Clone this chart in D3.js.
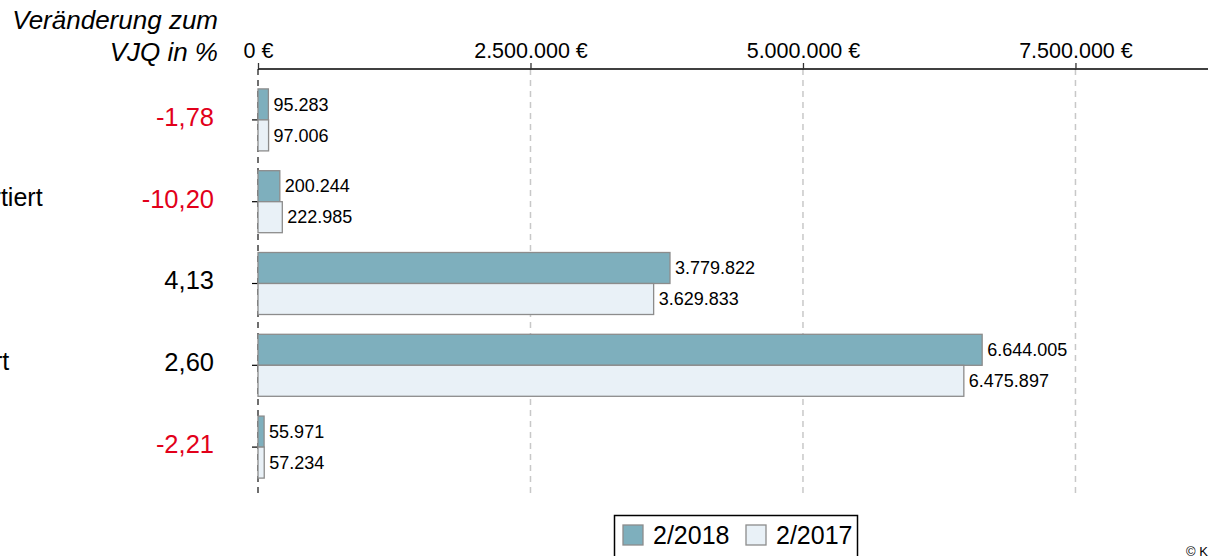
<!DOCTYPE html>
<html><head><meta charset="utf-8">
<script src="https://cdn.jsdelivr.net/npm/d3@7"></script>
<style>
html,body{margin:0;padding:0;background:#fff;overflow:hidden}
svg{display:block;font-family:"Liberation Sans",Arial,sans-serif}
</style></head>
<body>
<svg id="c" width="1214" height="556"></svg>
<script>
// ---- data ----
const categories = ["Wert", "Importiert", "Kauf", "Export", "Lohn"];
const series = ["2/2018", "2/2017"];
const values2018 = [95283, 200244, 3779822, 6644005, 55971];
const values2017 = [97006, 222985, 3629833, 6475897, 57234];
const changePct = [-1.78, -10.20, 4.13, 2.60, -2.21];
const tickValues = [0, 2500000, 5000000, 7500000];
const titleLines = ["Veränderung zum", "VJQ in %"];
const copyright = "© K";

// ---- layout ----
const svg = d3.select("#c");
const x = d3.scaleLinear().domain([0, 8716000]).range([258, 1208]);
const y = d3.scaleBand().domain(categories).range([79, 488]);
const ySub = d3.scaleBand().domain(series).range([y.bandwidth()/2 - 31, y.bandwidth()/2 + 31]);
const colors = {"2/2018": "#7eafbd", "2/2017": "#e9f1f7"};
const deFmt = d3.formatLocale({decimal: ",", thousands: ".", grouping: [3], currency: ["", " €"], minus: "-"});
const fmtInt = deFmt.format(",d");
const fmtPct = deFmt.format(".2f");

// grid lines
svg.append("g").selectAll("line").data(tickValues.filter(d => d > 0)).join("line")
  .attr("x1", d => x(d)).attr("x2", d => x(d))
  .attr("y1", 69).attr("y2", 498)
  .attr("stroke", "#c8c8c8").attr("stroke-width", 1.5).attr("stroke-dasharray", "6,5");

// zero line (dashed dark)
svg.append("line").attr("x1", x(0)).attr("x2", x(0)).attr("y1", 69).attr("y2", 498)
  .attr("stroke", "#222").attr("stroke-width", 1.3).attr("stroke-dasharray", "6,5");

// top axis
const xAxis = d3.axisTop(x).tickValues(tickValues).tickSize(6).tickPadding(5)
  .tickFormat(d => fmtInt(d) + " €");
const gx = svg.append("g").attr("transform", "translate(0,69)").call(xAxis);
gx.select(".domain").attr("d", `M${x(0)},0H1208`).attr("stroke", "#000").attr("stroke-width", 1.5);
gx.selectAll(".tick line").attr("stroke", "#333").attr("stroke-width", 1.3);
gx.selectAll(".tick text").attr("font-size", 21.5).attr("fill", "#000")
  .attr("font-family", "Liberation Sans, Arial, sans-serif");

// left axis ticks
const yAxis = d3.axisLeft(y).tickSize(6).tickFormat("");
const gy = svg.append("g").attr("transform", `translate(${x(0)},0)`).call(yAxis);
gy.select(".domain").remove();
gy.selectAll(".tick line").attr("stroke", "#000").attr("stroke-width", 1.2);

// bars
const rows = categories.map((c, i) => ({cat: c, vals: [
  {s: series[0], v: values2018[i]}, {s: series[1], v: values2017[i]}]}));
const grp = svg.append("g").selectAll("g").data(rows).join("g")
  .attr("transform", d => `translate(0,${y(d.cat)})`);
grp.selectAll("rect").data(d => d.vals).join("rect")
  .attr("x", x(0)).attr("y", d => ySub(d.s))
  .attr("width", d => x(d.v) - x(0)).attr("height", ySub.bandwidth())
  .attr("fill", d => colors[d.s]).attr("stroke", "#8c8c8c").attr("stroke-width", 1.3);
grp.selectAll("text").data(d => d.vals).join("text")
  .attr("x", d => x(d.v) + 5).attr("y", d => ySub(d.s) + ySub.bandwidth()/2)
  .attr("dy", "0.35em").attr("font-size", 18).attr("fill", "#000")
  .text(d => fmtInt(d.v));

// category labels (cropped at left edge)
svg.append("g").selectAll("text").data(categories).join("text")
  .attr("x", -63).attr("y", d => y(d) + y.bandwidth()/2 - 4)
  .attr("dy", "0.35em").attr("font-size", 25).attr("fill", "#000")
  .text(d => d);

// change percentages
svg.append("g").selectAll("text").data(changePct).join("text")
  .attr("x", 214).attr("y", (d, i) => y(categories[i]) + y.bandwidth()/2 - 3)
  .attr("dy", "0.35em").attr("text-anchor", "end").attr("font-size", 25.5)
  .attr("fill", d => d < 0 ? "#e2001a" : "#000")
  .text(d => fmtPct(d));

// title
svg.append("g").selectAll("text").data(titleLines).join("text")
  .attr("x", 218).attr("y", (d, i) => 29 + i * 32)
  .attr("text-anchor", "end").attr("font-size", 26).attr("font-style", "italic")
  .attr("fill", "#000").text(d => d);

// legend
const lg = svg.append("g");
lg.append("rect").attr("x", 614.5).attr("y", 515.5).attr("width", 243).attr("height", 50)
  .attr("fill", "#fff").attr("stroke", "#000").attr("stroke-width", 1.5);
const lgx = d3.scalePoint().domain(series).range([623, 746]);
const li = lg.selectAll("g").data(series).join("g")
  .attr("transform", d => `translate(${lgx(d)},525)`);
li.append("rect").attr("width", 20).attr("height", 20)
  .attr("fill", d => colors[d]).attr("stroke", "#8c8c8c").attr("stroke-width", 1.3);
li.append("text").attr("x", 30).attr("y", 10).attr("dy", "0.35em")
  .attr("font-size", 25).attr("fill", "#000").text(d => d);

// copyright
svg.append("text").attr("x", 1186).attr("y", 556).attr("font-size", 13)
  .attr("fill", "#000").text(copyright);
</script>
</body></html>
